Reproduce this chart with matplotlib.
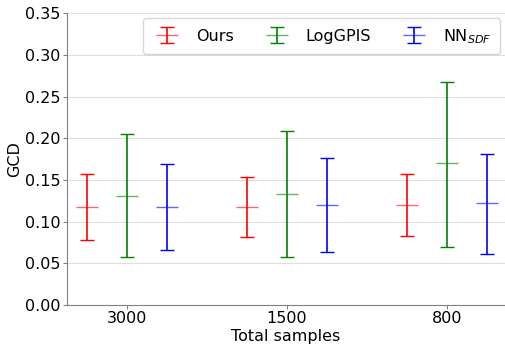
import numpy as np
import matplotlib.pyplot as plt

# data
groups = ["3000", "1500", "800"]
methods = ["Ours", "LogGPIS", r"NN$_{SDF}$"]
colors = ["red", "green", "blue"]

ours_mid = [0.118, 0.117, 0.120]
ours_lo = [0.078, 0.081, 0.083]
ours_hi = [0.157, 0.154, 0.157]

loggpis_mid = [0.131, 0.133, 0.170]
loggpis_lo = [0.057, 0.057, 0.070]
loggpis_hi = [0.205, 0.209, 0.268]

nn_mid = [0.118, 0.120, 0.122]
nn_lo = [0.066, 0.063, 0.061]
nn_hi = [0.169, 0.176, 0.181]

mids = [ours_mid, loggpis_mid, nn_mid]
los = [ours_lo, loggpis_lo, nn_lo]
his = [ours_hi, loggpis_hi, nn_hi]
offsets = [-0.25, 0.0, 0.25]

plt.rcParams["font.size"] = 11.5

fig = plt.figure(figsize=(5.05, 3.45), dpi=100)
ax = fig.add_axes([0.1327, 0.116, 0.8673, 0.8454])

x = np.arange(len(groups))
for i in range(3):
    mid = np.array(mids[i])
    yerr = [mid - np.array(los[i]), np.array(his[i]) - mid]
    eb = ax.errorbar(x + offsets[i], mid, yerr=yerr, fmt="_", color=colors[i],
                     markersize=16, markeredgewidth=1, capsize=5, capthick=1.2,
                     elinewidth=1.2, label=methods[i])
    eb[0].set_alpha(0.6)  # mean marker drawn lighter

ax.set_xticks(x)
ax.set_xticklabels(groups)
ax.set_xlim(-0.375, 2.3625)
ax.set_ylim(0, 0.35)
ax.set_yticks(np.arange(0, 0.351, 0.05))
ax.set_xlabel("Total samples", labelpad=2)
ax.set_ylabel("GCD", labelpad=2)

ax.grid(axis="y", color="#dddddd", linewidth=0.8)
ax.set_axisbelow(True)
for s in ["top", "right"]:
    ax.spines[s].set_visible(False)
for s in ["left", "bottom"]:
    ax.spines[s].set_color("gray")
ax.tick_params(color="gray", length=3, pad=1.5)

ax.legend(loc="upper right", ncol=3, columnspacing=1.7, borderpad=0.55,
          borderaxespad=0.3)

plt.savefig("out.png", dpi=100)
